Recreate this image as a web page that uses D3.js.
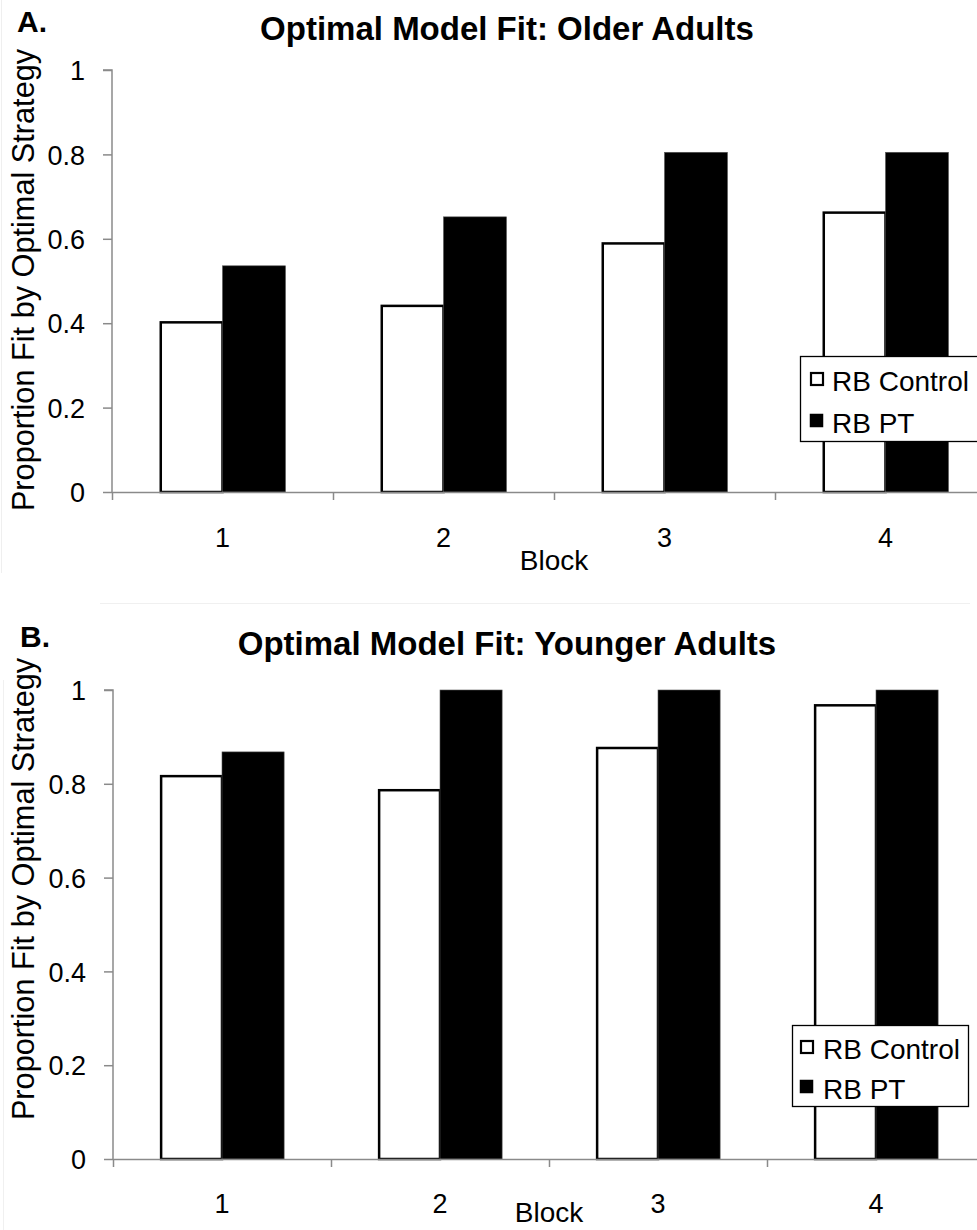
<!DOCTYPE html>
<html>
<head>
<meta charset="utf-8">
<script src="https://cdn.jsdelivr.net/npm/d3@7"></script>
<style>
  html, body { margin: 0; padding: 0; background: #fff; }
  svg { display: block; }
  text { font-family: "Liberation Sans", Arial, Helvetica, sans-serif; fill: #000; }
</style>
</head>
<body>
<svg id="chart" width="977" height="1230"></svg>
<script>
// ---- data ----
const blocks = ["1", "2", "3", "4"];
const seriesNames = ["RB Control", "RB PT"];
const olderControl = [0.405, 0.444, 0.592, 0.665];
const olderPT = [0.536, 0.652, 0.805, 0.805];
const youngerControl = [0.819, 0.789, 0.879, 0.970];
const youngerPT = [0.868, 1.0, 1.0, 1.0];
const yTicks = [0, 0.2, 0.4, 0.6, 0.8, 1];
const yTickLabels = ["0", "0.2", "0.4", "0.6", "0.8", "1"];
const panelLetters = ["A.", "B."];
const panelTitles = ["Optimal Model Fit: Older Adults", "Optimal Model Fit: Younger Adults"];
const yAxisTitle = "Proportion Fit by Optimal Strategy";
const xAxisTitle = "Block";

const svg = d3.select("#chart");
const AXIS_COLOR = "#8a8a8a";

// faint frame traces of the source image
svg.append("line").attr("x1", 1.5).attr("x2", 1.5).attr("y1", 0).attr("y2", 573)
  .attr("stroke", "#efefef").attr("stroke-width", 1);
svg.append("line").attr("x1", 100).attr("x2", 970).attr("y1", 603.5).attr("y2", 603.5)
  .attr("stroke", "#f0f0f0").attr("stroke-width", 1);
svg.append("line").attr("x1", 3.5).attr("x2", 3.5).attr("y1", 680).attr("y2", 1230)
  .attr("stroke", "#f0f0f0").attr("stroke-width", 1);

function drawPanel(cfg) {
  const g = svg.append("g");
  const control = cfg.control, pt = cfg.pt;
  const rows = blocks.map((b, i) => ({ block: b, values: [control[i], pt[i]] }));

  const y = d3.scaleLinear().domain([0, 1]).range([cfg.bottom, cfg.top]);
  const x0 = d3.scaleBand().domain(blocks).range([cfg.left, cfg.right])
    .paddingInner(0.43).paddingOuter(0.215);
  const x1 = d3.scaleBand().domain(seriesNames).range([0, x0.bandwidth()]);
  const xIdx = d3.scaleLinear().domain([0, blocks.length]).range([cfg.left, cfg.right]);

  // bars
  const grp = g.selectAll("g.grp").data(rows).join("g")
    .attr("transform", d => `translate(${x0(d.block)},0)`);
  grp.selectAll("rect").data(d => d.values.map((v, k) => ({ s: seriesNames[k], v })))
    .join("rect")
    .attr("x", d => x1(d.s) + (d.s === seriesNames[0] ? 1.25 : 0))
    .attr("width", d => x1.bandwidth() - (d.s === seriesNames[0] ? 1.25 : 0))
    .attr("y", d => y(d.v) + (d.s === seriesNames[0] ? 1.25 : 0))
    .attr("height", d => cfg.bottom - y(d.v) - (d.s === seriesNames[0] ? 1.25 : 0))
    .attr("fill", d => d.s === seriesNames[0] ? "#fff" : "#000")
    .attr("stroke", d => d.s === seriesNames[0] ? "#000" : "#555")
    .attr("stroke-width", d => d.s === seriesNames[0] ? 2.5 : 0.6);

  // y axis
  const yAxis = d3.axisLeft(y).tickValues(yTicks)
    .tickFormat((d, i) => yTickLabels[i]).tickSize(9).tickPadding(18);
  const ya = g.append("g").attr("transform", `translate(${cfg.left},0)`).call(yAxis);
  ya.select(".domain").attr("stroke", AXIS_COLOR).attr("stroke-width", 1.5)
    .attr("d", `M-9,${cfg.top}H0V${cfg.bottom}`);
  ya.selectAll(".tick line").attr("stroke", AXIS_COLOR).attr("stroke-width", 1.5);
  ya.selectAll(".tick text").attr("font-size", 27).attr("dy", "0.36em")
    .attr("font-family", '"Liberation Sans", Arial, sans-serif').attr("fill", "#000");

  // x axis (boundary ticks)
  const xAxis = d3.axisBottom(xIdx).tickValues(d3.range(blocks.length + 1))
    .tickFormat("").tickSize(8).tickSizeOuter(0);
  const xa = g.append("g").attr("transform", `translate(0,${cfg.bottom})`).call(xAxis);
  xa.select(".domain").attr("stroke", AXIS_COLOR).attr("stroke-width", 1.5);
  xa.selectAll(".tick line").attr("stroke", AXIS_COLOR).attr("stroke-width", 1.5);

  // category labels
  g.selectAll("text.cat").data(blocks).join("text").attr("class", "cat")
    .attr("x", d => x0(d) + x0.bandwidth() / 2).attr("y", cfg.catBase)
    .attr("text-anchor", "middle").attr("font-size", 27).text(d => d);

  // x title
  g.append("text").attr("x", (cfg.left + cfg.right) / 2).attr("y", cfg.xTitleBase)
    .attr("text-anchor", "middle").attr("font-size", 28).text(xAxisTitle);

  // y title
  g.append("text").attr("transform", `translate(${cfg.yTitleX},${cfg.yTitleY}) rotate(-90)`)
    .attr("text-anchor", "middle").attr("font-size", 30.7).text(yAxisTitle);

  // panel title & letter
  g.append("text").attr("x", cfg.titleX).attr("y", cfg.titleBase)
    .attr("text-anchor", "middle").attr("font-size", 33).attr("font-weight", "bold")
    .text(cfg.title);
  g.append("text").attr("x", cfg.letterX).attr("y", cfg.letterBase)
    .attr("font-size", 30).attr("font-weight", "bold").text(cfg.letter);

  // legend
  const L = cfg.legend;
  const lg = g.append("g");
  lg.append("rect").attr("x", L.x + 0.5).attr("y", L.y + 0.5).attr("width", L.w).attr("height", L.h)
    .attr("fill", "#fff").attr("stroke", "#000").attr("stroke-width", 1.3);
  seriesNames.forEach((s, k) => {
    const by = L.y + L.rowBase[k];
    lg.append("rect").attr("x", L.x + L.mx + (k === 0 ? 1 : 0)).attr("y", by - 19 + (k === 0 ? 1 : 0))
      .attr("width", k === 0 ? 12 : 13).attr("height", k === 0 ? 12 : 13)
      .attr("fill", k === 0 ? "#fff" : "#000").attr("stroke", "#000")
      .attr("stroke-width", k === 0 ? 2.2 : 0.5);
    lg.append("text").attr("x", L.x + L.tx).attr("y", by).attr("font-size", 28).text(s);
  });
}

drawPanel({
  control: olderControl, pt: olderPT,
  left: 112, right: 996, top: 70, bottom: 492,
  catBase: 547, xTitleBase: 570,
  yTitleX: 34, yTitleY: 280,
  title: panelTitles[0], titleX: 507, titleBase: 40,
  letter: panelLetters[0], letterX: 17, letterBase: 32,
  legend: { x: 800, y: 356, w: 180, h: 85, mx: 10, tx: 32, rowBase: [35, 77] }
});

drawPanel({
  control: youngerControl, pt: youngerPT,
  left: 113, right: 985, top: 690, bottom: 1159,
  catBase: 1213, xTitleBase: 1222,
  yTitleX: 34, yTitleY: 889,
  title: panelTitles[1], titleX: 507, titleBase: 655,
  letter: panelLetters[1], letterX: 20, letterBase: 647,
  legend: { x: 792, y: 1025, w: 176, h: 81, mx: 8, tx: 31, rowBase: [34, 74] }
});
</script>
</body>
</html>
